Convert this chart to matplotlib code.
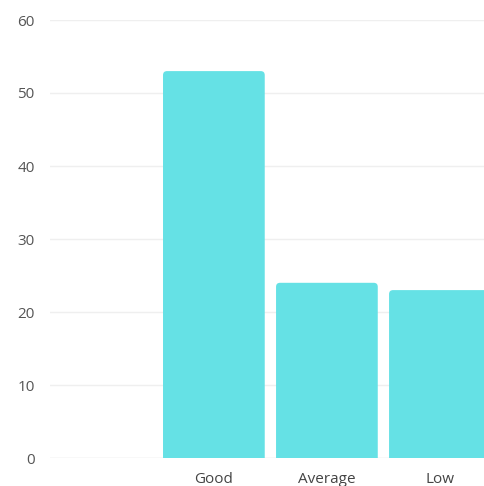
import matplotlib
matplotlib.use("Agg")
import matplotlib.pyplot as plt
from matplotlib.patches import FancyBboxPatch
import numpy as np

categories = ["Good", "Average", "Low"]
values = [53, 24, 23]
y_ticks = [0, 10, 20, 30, 40, 50, 60]

BAR_COLOR = "#65E1E5"
W, H, DPI = 484, 486, 100

plt.rcParams["font.family"] = ["Open Sans", "DejaVu Sans"]

fig = plt.figure(figsize=(W / DPI, H / DPI), dpi=DPI)
ax = fig.add_axes([50 / W, 28 / H, (W - 50) / W, 438 / H])

x = np.arange(1, len(categories) + 1)
ax.set_xlim(-0.45, 3.39)
ax.set_ylim(0, 60)

# gridlines
for t in y_ticks:
    ax.axhline(t, color="#e0e0e0" if t == 0 else "#efefef", lw=1, zorder=0)

# bars with slightly rounded top corners
bars = ax.bar(x, values, width=0.9, color=BAR_COLOR, zorder=2)
x_unit = ax.get_position().width * W / (3.39 + 0.45)
y_unit = ax.get_position().height * H / 60
aspect = x_unit / y_unit
radius = 4 / x_unit
for b in bars:
    bx, by = b.get_x(), b.get_y()
    bw, bh = b.get_width(), b.get_height()
    b.set_visible(False)
    patch = FancyBboxPatch((bx, by - 2), bw, bh + 2,
                           boxstyle=f"round,pad=0,rounding_size={radius}",
                           mutation_aspect=aspect, facecolor=BAR_COLOR,
                           edgecolor="none", zorder=2, clip_on=True)
    ax.add_patch(patch)

ax.set_xticks(x)
ax.set_xticklabels(categories, fontsize=11, color="#444444")
ax.set_yticks(y_ticks)
ax.set_yticklabels([str(t) for t in y_ticks], fontsize=11, color="#555555")
ax.tick_params(axis="both", length=0)
ax.tick_params(axis="x", pad=10)
ax.tick_params(axis="y", pad=11)
for s in ax.spines.values():
    s.set_visible(False)
ax.patch.set_alpha(0)

fig.savefig("out.png", dpi=DPI)
